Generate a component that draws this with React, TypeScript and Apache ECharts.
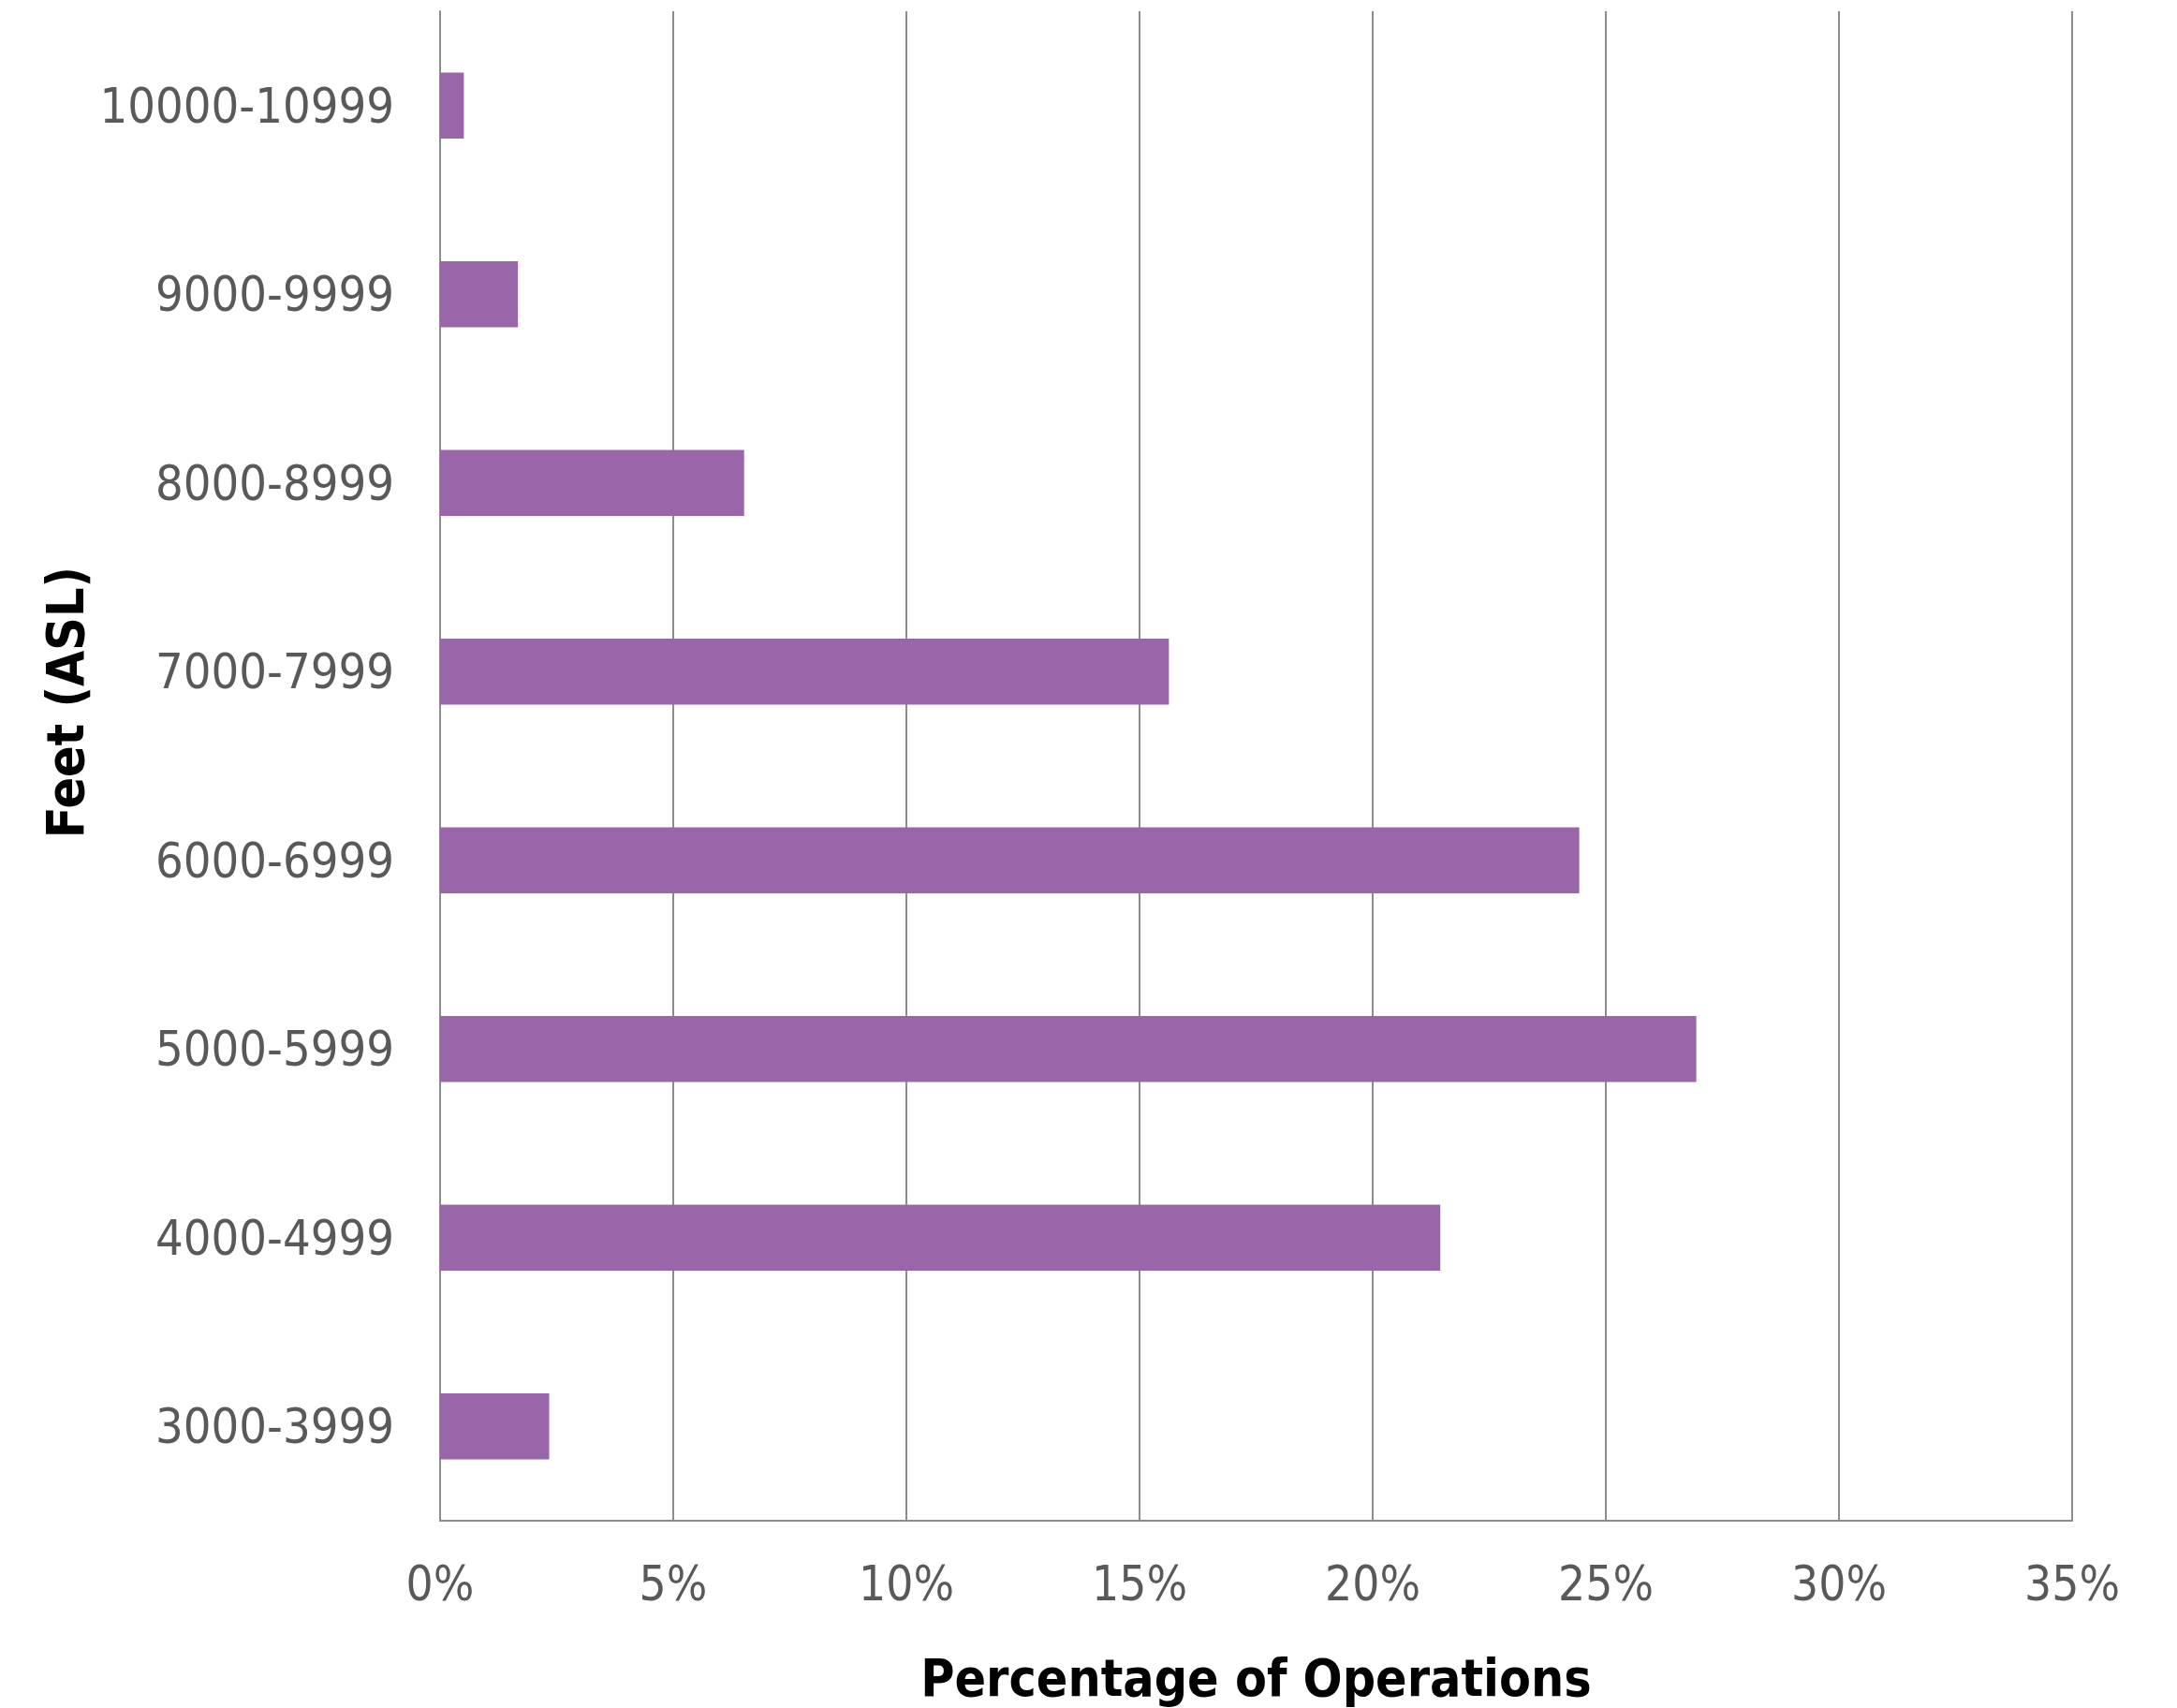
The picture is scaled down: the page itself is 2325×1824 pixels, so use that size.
import React, { useEffect, useRef } from "react";
import * as echarts from "echarts";

const categories = [
  "3000-3999",
  "4000-4999",
  "5000-5999",
  "6000-6999",
  "7000-7999",
  "8000-8999",
  "9000-9999",
  "10000-10999",
];
const percentages = [2.34, 21.45, 26.94, 24.43, 15.63, 6.52, 1.67, 0.51];
const xTicks = [0, 5, 10, 15, 20, 25, 30, 35];
const xTitle = "Percentage of Operations";
const yTitle = "Feet (ASL)";

const FONT = "'DejaVu Sans Condensed', 'DejaVu Sans', sans-serif";

export default function App() {
  const ref = useRef<HTMLDivElement>(null);
  useEffect(() => {
    if (!ref.current) return;
    const chart = echarts.init(ref.current, undefined, { renderer: "svg" });
    chart.setOption({
      animation: false,
      backgroundColor: "#ffffff",
      grid: { left: 470, right: 112, top: 12, bottom: 198, containLabel: false },
      xAxis: {
        type: "value",
        min: xTicks[0],
        max: xTicks[xTicks.length - 1],
        interval: 5,
        axisLine: { show: true, lineStyle: { color: "#8c8c8c", width: 2 } },
        axisTick: { show: false },
        splitLine: { show: true, lineStyle: { color: "#8c8c8c", width: 2 } },
        axisLabel: {
          formatter: (v: number) => `${v}%`,
          color: "#595959",
          fontFamily: FONT,
          fontSize: 51,
          margin: 42,
        },
        name: xTitle,
        nameLocation: "middle",
        nameGap: 140,
        nameTextStyle: {
          color: "#000000",
          fontFamily: FONT,
          fontWeight: "bold",
          fontSize: 55,
        },
      },
      yAxis: {
        type: "category",
        data: categories,
        axisLine: { show: true, lineStyle: { color: "#8c8c8c", width: 2 } },
        axisTick: { show: false },
        splitLine: { show: false },
        axisLabel: {
          color: "#595959",
          fontFamily: FONT,
          fontSize: 52,
          margin: 49,
        },
      },
      graphic: [
        {
          type: "text",
          x: 70,
          y: 750,
          rotation: Math.PI / 2,
          style: {
            text: yTitle,
            fill: "#000000",
            font: `bold 55px ${FONT}`,
            textAlign: "center",
            textVerticalAlign: "middle",
          },
        },
      ],
      series: [
        {
          type: "bar",
          data: percentages,
          barWidth: "35%",
          itemStyle: { color: "#9966aa" },
        },
      ],
    });
    return () => chart.dispose();
  }, []);
  return (
    <div
      ref={ref}
      style={{ position: "fixed", left: 0, top: 0, width: 2325, height: 1824 }}
    />
  );
}
